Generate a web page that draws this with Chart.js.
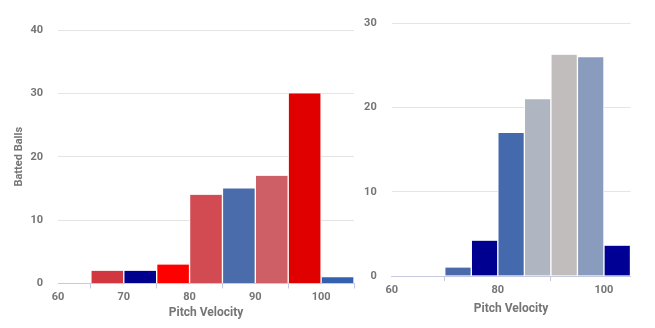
<!DOCTYPE html>
<html>
<head>
<meta charset="utf-8">
<script src="https://cdn.jsdelivr.net/npm/chart.js@4/dist/chart.umd.min.js"></script>
<style>
  html, body { margin: 0; padding: 0; background: #fff; }
  body { width: 655px; height: 328px; position: relative; overflow: hidden; }
  .panel { position: absolute; top: 0; height: 328px; }
  #left { left: 0; width: 360px; }
  #right { left: 360px; width: 295px; }
</style>
</head>
<body>
<div class="panel" id="left"><canvas id="c1"></canvas></div>
<div class="panel" id="right"><canvas id="c2"></canvas></div>
<script>
// Pitch velocity bins (lower edge, mph), width 5
const leftBinStarts  = [65, 70, 75, 80, 85, 90, 95, 100];
const leftCounts     = [2, 2, 3, 14, 15, 17, 30, 1];
const rightBinStarts = [70, 75, 80, 85, 90, 95, 100];
const rightCounts    = [1, 4.2, 17, 21, 26.3, 26, 3.6];
const binWidth = 5;

// Axis ranges and tick labels
const xRange = [60, 105];
const leftXTicks  = [60, 70, 80, 90, 100];
const rightXTicks = [60, 80, 100];
const leftYMax = 40, rightYMax = 30, yStep = 10;

// Bar fills
const leftColors  = ['#d2373f', '#00008f', '#fe0000', '#d24a52', '#4a6cab', '#cf5f67', '#e00000', '#3560b0'];
const rightColors = ['#4a6aab', '#000090', '#4569ad', '#b0b5c2', '#c1bdbd', '#8a9cbd', '#000094'];

const TEXT = '#757575';
const FONT = { family: 'Roboto, "Liberation Sans", sans-serif', size: 11, weight: 'bold' };

function histogram(canvasId, starts, counts, colors, opts) {
  const points = starts.map((s, i) => ({ x: s + binWidth / 2, y: counts[i] }));
  return new Chart(document.getElementById(canvasId), {
    type: 'bar',
    data: {
      datasets: [{
        data: points,
        backgroundColor: colors,
        borderColor: '#ffffff',
        borderWidth: { left: 1, right: 1, top: 0, bottom: 0 },
        borderSkipped: 'bottom',
        barPercentage: 1,
        categoryPercentage: 1
      }]
    },
    options: {
      responsive: true,
      maintainAspectRatio: false,
      animation: false,
      layout: { padding: { top: opts.padTop, right: opts.padRight, left: 0, bottom: 0 } },
      plugins: { legend: { display: false }, tooltip: { enabled: false } },
      scales: {
        x: {
          type: 'linear',
          min: xRange[0],
          max: xRange[1],
          offset: false,
          afterBuildTicks: s => { s.ticks = opts.xTicks.map(v => ({ value: v })); },
          afterFit: s => { s.height = opts.xHeight; },
          ticks: { color: TEXT, font: FONT, padding: opts.xTickPad, maxRotation: 0, autoSkip: false, includeBounds: false },
          grid: { drawOnChartArea: false, drawTicks: true, tickLength: 5, color: '#c5cae0' },
          border: { display: true, color: '#c5cae0', width: 1 },
          title: {
            display: true, text: 'Pitch Velocity', color: TEXT,
            font: { family: FONT.family, size: 12, weight: 'bold' },
            padding: { top: 0, bottom: opts.titlePadBottom }
          }
        },
        y: {
          min: 0,
          max: opts.yMax,
          afterFit: s => { s.width = opts.yWidth; },
          ticks: { stepSize: yStep, color: TEXT, font: FONT, padding: 15 },
          grid: { color: '#e4e4e4', drawTicks: false },
          border: { display: false },
          title: {
            display: !!opts.yTitle, text: opts.yTitle || '', color: TEXT,
            font: { family: FONT.family, size: 11, weight: 'bold' },
            padding: { top: 13, bottom: 0 }
          }
        }
      }
    }
  });
}

histogram('c1', leftBinStarts, leftCounts, leftColors, {
  xTicks: leftXTicks, yMax: leftYMax, yTitle: 'Batted Balls',
  padTop: 30, padRight: 6, yWidth: 58, xHeight: 44.5, xTickPad: 2, titlePadBottom: 7.5
});
histogram('c2', rightBinStarts, rightCounts, rightColors, {
  xTicks: rightXTicks, yMax: rightYMax, yTitle: null,
  padTop: 23.5, padRight: 24.5, yWidth: 31.7, xHeight: 52, xTickPad: 3, titlePadBottom: 11.5
});
</script>
</body>
</html>
